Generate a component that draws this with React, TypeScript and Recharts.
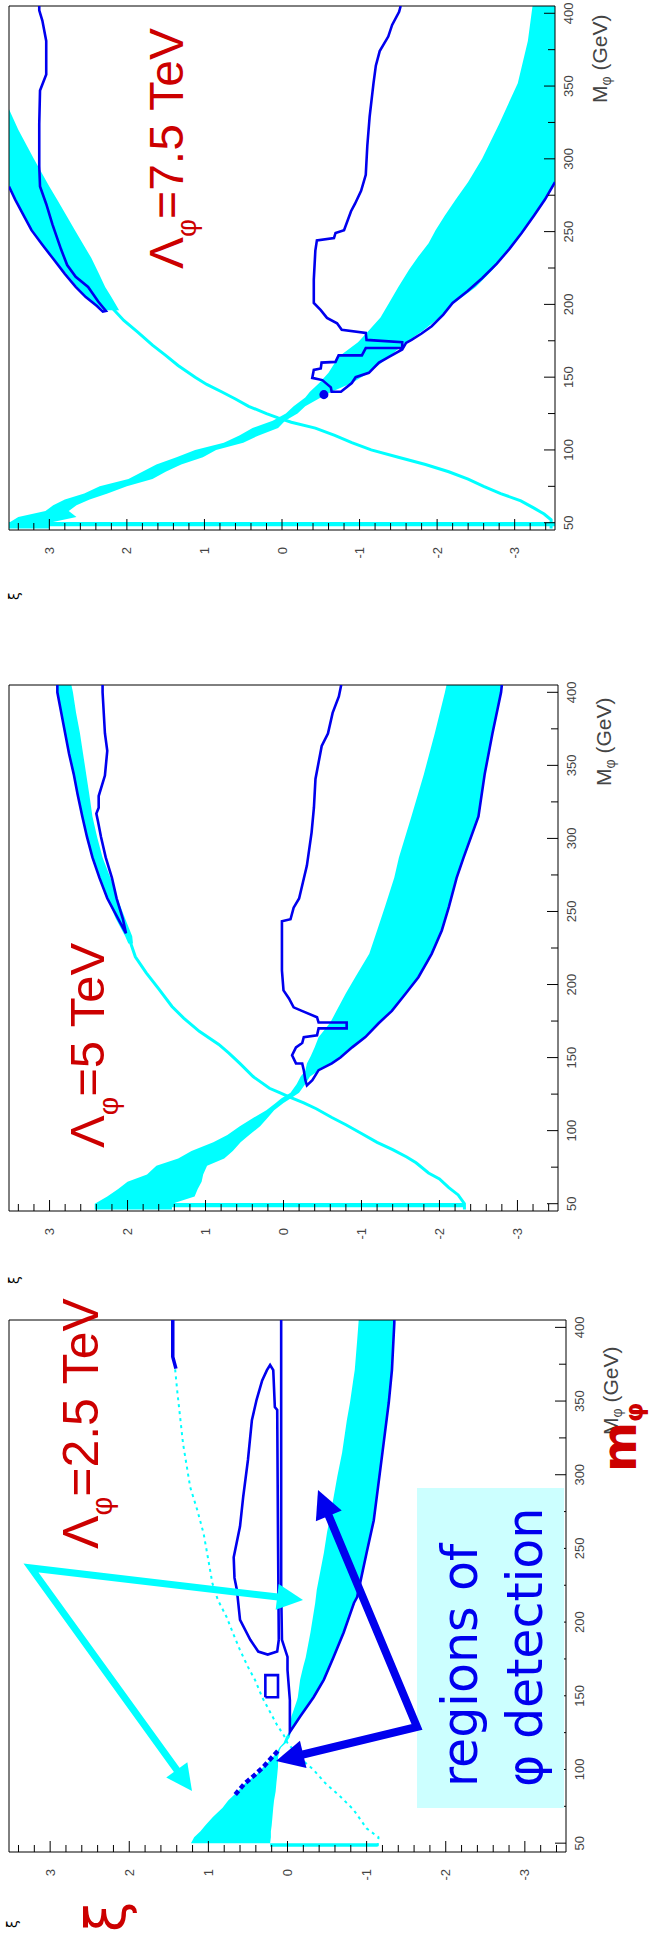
import React from "react";
import { Area, ComposedChart, ReferenceArea, Scatter, XAxis, YAxis } from "recharts";

type Band = [number, number, number][]; // [mass, xi low, xi high]
type Path = [number, number][]; // [mass, xi]

const CYAN = "#00FFFF";
const BLUE = "#0000EE";
const RED = "#CC0000";
const SANS = "'Liberation Sans', Arial, Helvetica, sans-serif";
const ROUND = "'DejaVu Sans', Verdana, sans-serif";

const massTicks = [50, 75, 100, 125, 150, 175, 200, 225, 250, 275, 300, 325, 350, 375, 400];
const xiTicks = [
  -3.4, -3.2, -3, -2.8, -2.6, -2.4, -2.2, -2, -1.8, -1.6, -1.4, -1.2, -1, -0.8, -0.6, -0.4, -0.2, 0,
  0.2, 0.4, 0.6, 0.8, 1, 1.2, 1.4, 1.6, 1.8, 2, 2.2, 2.4, 2.6, 2.8, 3, 3.2, 3.4,
];
const xiDomain: [number, number] = [-3.52, 3.52];

// ---------- Lambda = 7.5 TeV ----------
const bandA75: Band = [
  [46, 3.0, 3.52], [50, 3.0, 3.52], [54, 2.65, 3.4], [58, 2.75, 3.05], [62, 2.65, 2.95],
  [66, 2.48, 2.8], [70, 2.25, 2.55], [75, 2.0, 2.35], [80, 1.67, 1.98], [85, 1.5, 1.8],
  [90, 1.3, 1.62], [95, 1.02, 1.36], [100, 0.85, 1.12], [105, 0.5, 0.75], [110, 0.3, 0.55],
  [115, 0.05, 0.38], [120, -0.04, 0.12], [125, -0.2, -0.05], [130, -0.3, -0.15], [136, -0.5, -0.3],
  [140, -0.64, -0.36], [146, -0.9, -0.48], [153, -1.12, -0.6], [164, -1.38, -0.73], [174, -1.6, -0.98],
  [182, -1.82, -1.12], [191, -2.03, -1.27], [201, -2.22, -1.38], [212, -2.5, -1.5], [224, -2.72, -1.64],
  [233, -2.86, -1.76], [242, -3.0, -1.89], [251, -3.12, -1.98], [261, -3.25, -2.1], [272, -3.39, -2.24],
  [284, -3.52, -2.4], [300, -3.52, -2.58], [324, -3.52, -2.8], [352, -3.52, -3.04], [381, -3.52, -3.17],
  [405, -3.52, -3.23],
];
const bandB75: Band = [
  [196, 2.1, 2.3], [205, 2.2, 2.52], [212, 2.28, 2.64], [221, 2.36, 2.78], [232, 2.46, 2.96],
  [241, 2.56, 3.09], [251, 2.67, 3.22], [261, 2.78, 3.33], [272, 2.9, 3.44], [281, 3.0, 3.52],
  [300, 3.2, 3.52], [320, 3.4, 3.52], [334, 3.52, 3.52],
];
const baseRow75: Band = [[47.5, -3.52, 3.52], [50.5, -3.52, 3.52]];
const thinB75: Path = [
  [46, -3.47], [52, -3.47], [56, -3.38], [60, -3.25], [65, -3.08], [70, -2.82], [75, -2.6], [80, -2.4],
  [85, -2.15], [90, -1.85], [95, -1.5], [100, -1.15], [105, -0.9], [110, -0.68], [115, -0.43],
  [119, -0.12], [122, 0.05], [125, 0.2], [130, 0.43], [135, 0.6], [140, 0.78], [145, 0.97], [150, 1.12],
  [158, 1.34], [165, 1.5], [172, 1.67], [181, 1.86], [189, 2.04], [197, 2.18],
];
const contourUp75: Path = [
  [281, 3.52], [272, 3.44], [261, 3.33], [251, 3.23], [241, 3.09], [232, 2.96], [221, 2.8], [212, 2.66],
  [205, 2.53], [199, 2.39], [195, 2.31], [195.5, 2.27], [202, 2.37], [212, 2.5], [219, 2.66], [227, 2.77],
  [238, 2.85], [255, 2.96], [269, 3.04], [281, 3.12], [295, 3.13], [324, 3.13], [347, 3.12], [358, 3.04],
  [381, 3.04], [395, 3.09], [402, 3.13], [405, 3.13],
];
const contourLow75: Path = [
  [284, -3.52], [272, -3.39], [261, -3.25], [249, -3.09], [238, -2.93], [228, -2.77], [218, -2.58],
  [209, -2.39], [201, -2.2], [193, -2.08], [185, -1.93], [180, -1.8], [175.6, -1.67], [173.5, -1.6],
  [169, -1.55], [164, -1.38], [160, -1.25], [153, -1.12], [150, -0.95], [146, -0.9], [140, -0.76],
  [140, -0.64], [143, -0.63], [148, -0.52], [149.5, -0.39], [155, -0.41], [156, -0.5], [160, -0.51],
  [160.5, -0.69], [165, -0.73], [165, -1.03], [170, -1.08], [170, -1.55], [174, -1.55], [175.6, -1.09],
  [180.4, -1.08], [182.5, -0.77], [187, -0.71], [190.7, -0.58], [196, -0.5], [201, -0.41], [217, -0.41],
  [237, -0.43], [244, -0.45], [245.6, -0.67], [249, -0.69], [251, -0.8], [264, -0.89], [269, -0.94],
  [278, -1.02], [289, -1.08], [309, -1.1], [329, -1.13], [352, -1.18], [364, -1.21], [374, -1.26],
  [384, -1.37], [392, -1.42], [401, -1.51], [405, -1.53],
];
const blob75: Path = [[138, -0.54]];

// ---------- Lambda = 5 TeV ----------
const bandA5: Band = [
  [46, 1.43, 2.42], [50, 1.43, 2.42], [55, 1.14, 2.26], [60, 1.1, 2.12], [65, 1.05, 2.0],
  [70, 1.03, 1.75], [76, 0.98, 1.63], [81, 0.76, 1.35], [86, 0.65, 1.18], [92, 0.55, 0.9],
  [97, 0.44, 0.72], [103, 0.3, 0.56], [109, 0.2, 0.38], [114, 0.12, 0.22], [119, 0.0, 0.1],
  [122, -0.09, 0.03], [126, -0.2, -0.09], [132, -0.28, -0.17], [137, -0.34, -0.22], [141, -0.45, -0.28],
  [146, -0.62, -0.3], [151, -0.75, -0.35], [157, -0.88, -0.4], [164, -1.05, -0.45], [174, -1.22, -0.6],
  [182, -1.39, -0.68], [194, -1.57, -0.8], [205, -1.73, -0.92], [221, -1.9, -1.1], [237, -2.03, -1.2],
  [253, -2.12, -1.3], [273, -2.22, -1.42], [287, -2.31, -1.48], [315, -2.5, -1.64], [344, -2.58, -1.8],
  [372, -2.68, -1.94], [400, -2.79, -2.07], [405, -2.8, -2.09],
];
const bandB5: Band = [
  [228, 1.93, 1.99], [233, 1.94, 2.03], [245, 2.03, 2.15], [259, 2.13, 2.26], [273, 2.22, 2.36],
  [287, 2.32, 2.45], [301, 2.39, 2.52], [315, 2.45, 2.58], [330, 2.49, 2.64], [344, 2.53, 2.69],
  [358, 2.57, 2.75], [372, 2.61, 2.8], [386, 2.66, 2.85], [400, 2.7, 2.9], [405, 2.72, 2.91],
];
const baseRow5: Band = [[47.5, -2.32, 1.43], [50.5, -2.32, 1.43]];
const thinB5: Path = [
  [46, -2.32], [50, -2.32], [56, -2.24], [61, -2.12], [67, -2.0], [71, -1.86], [78, -1.7], [82, -1.58],
  [87, -1.4], [92, -1.2], [98, -1.0], [104, -0.8], [109, -0.62], [115, -0.42], [119, -0.26], [123, -0.08],
  [126, 0.05], [129, 0.18], [137, 0.39], [146, 0.56], [153, 0.7], [159, 0.83], [168, 1.08], [177, 1.28],
  [185, 1.43], [197, 1.6], [208, 1.76], [219, 1.9], [230, 1.97],
];
const contourUp5: Path = [
  [405, 2.9], [400, 2.9], [386, 2.85], [372, 2.8], [358, 2.75], [344, 2.69], [330, 2.64], [315, 2.58],
  [301, 2.52], [287, 2.45], [273, 2.36], [259, 2.26], [247, 2.14], [235, 2.02], [245, 2.06], [259, 2.14],
  [273, 2.2], [287, 2.28], [301, 2.34], [312, 2.38], [317, 2.4], [321, 2.37], [329, 2.37], [343, 2.29],
  [360, 2.26], [372, 2.29], [400, 2.32], [405, 2.32],
];
const contourLow5: Path = [
  [405, -2.8], [400, -2.79], [372, -2.68], [344, -2.58], [315, -2.5], [287, -2.31], [273, -2.22],
  [253, -2.12], [237, -2.03], [221, -1.9], [205, -1.73], [194, -1.57], [182, -1.39], [173.5, -1.22],
  [164, -1.05], [157, -0.88], [150, -0.73], [146, -0.62], [141.4, -0.45], [134.6, -0.37], [131, -0.3],
  [134.6, -0.28], [141.4, -0.26], [146, -0.24], [146, -0.16], [151.6, -0.11], [157, -0.16], [160, -0.24],
  [164, -0.26], [165.3, -0.43], [170, -0.45], [170, -0.81], [174, -0.81], [174, -0.45], [177.6, -0.43],
  [182.3, -0.22], [184.4, -0.13], [190.5, -0.07], [196, 0.0], [209.6, 0.02], [243.3, 0.02], [244.7, -0.09],
  [252.6, -0.13], [258.9, -0.2], [270.2, -0.25], [281.4, -0.3], [304, -0.36], [321, -0.39], [340.7, -0.41],
  [363.3, -0.49], [371.8, -0.57], [385.9, -0.63], [397.2, -0.71], [405, -0.74],
];

// ---------- Lambda = 2.5 TeV ----------
const bandA25: Band = [
  [50, 0.22, 1.22], [54, 0.21, 1.18], [58, 0.21, 1.1], [62, 0.2, 1.04], [68, 0.19, 0.94], [74, 0.18, 0.82],
  [79, 0.17, 0.75], [85, 0.15, 0.63], [91, 0.14, 0.53], [96, 0.13, 0.4], [102, 0.12, 0.3], [108, 0.12, 0.19],
  [113, 0.1, 0.12], [115, 0.08, 0.1], [118, 0.02, 0.05], [122, -0.03, 0.02], [125.5, -0.04, -0.02],
  [130, -0.08, -0.03], [136, -0.16, -0.05], [147, -0.3, -0.12], [149, -0.33, -0.13], [161, -0.46, -0.16],
  [170, -0.53, -0.2], [176, -0.58, -0.23], [193, -0.71, -0.29], [213, -0.84, -0.35], [222, -0.9, -0.37],
  [247, -1.0, -0.46], [261, -1.06, -0.5], [269, -1.09, -0.53], [299, -1.17, -0.63], [315, -1.2, -0.69],
  [337, -1.26, -0.75], [349, -1.28, -0.79], [364, -1.31, -0.83], [371, -1.32, -0.85], [391, -1.34, -0.88],
  [405, -1.35, -0.9],
];
const baseRow25: Band = [[47.5, -1.14, 0.22], [50, -1.14, 0.22]];
const thinB25: Path = [
  [48, -1.14], [54, -1.15], [60, -1.0], [73, -0.83], [81.5, -0.67], [90.6, -0.48], [99.7, -0.33],
  [107.8, -0.16], [118, 0.0], [123.5, 0.05], [130, 0.13], [139, 0.22], [149, 0.32], [160.7, 0.41],
  [169.6, 0.5], [181, 0.6], [192.6, 0.69], [203.5, 0.77], [215, 0.88], [226.5, 0.95], [242, 1.0],
  [260, 1.06], [276, 1.14], [291.6, 1.23], [321, 1.32], [355, 1.39], [371.5, 1.42],
];
const contourOuter25: Path = [
  [405, -1.35], [403, -1.35], [371, -1.32], [349, -1.28], [315, -1.2], [269, -1.09], [247, -1.0],
  [217, -0.88], [213, -0.84], [193, -0.71], [176, -0.58], [161, -0.46], [149, -0.33], [136, -0.16],
  [125.5, -0.03], [147, -0.03], [167.5, 0.0], [176.4, 0.0], [188, 0.07], [222, 0.08], [405, 0.08],
];
const contourLoop25: Path = [
  [188, 0.11], [180, 0.13], [178, 0.25], [180, 0.37], [188, 0.47], [201.5, 0.6], [222, 0.64], [230, 0.67],
  [244, 0.68], [265, 0.6], [285, 0.56], [310, 0.5], [337, 0.45], [351, 0.39], [364, 0.32], [371, 0.26],
  [374.5, 0.22], [371, 0.18], [346, 0.16], [344, 0.13], [258, 0.12], [188, 0.11],
];
const contourBox25: Path = [[149, 0.28], [149, 0.12], [164, 0.12], [164, 0.28], [149, 0.28]];
const contourDash25: Path = [[83, 0.66], [90, 0.55], [96, 0.42], [102, 0.3], [108.6, 0.19], [114, 0.1]];
const contourTop25: Path = [[405, 1.45], [380, 1.45], [372, 1.41]];

type Line = { path: Path; color: string; width: number; dash?: string };
type PanelSpec = {
  top: number;
  width: number;
  frameLeft: number;
  frameRight: number;
  massDomain: [number, number];
  bands: Band[];
  lines: Line[];
  dots?: Path;
};

const Y_AXIS_W = 60;
const PANEL_H = 653;
const RIGHT_PAD = 12;

const panels: PanelSpec[] = [
  {
    top: -6, width: 596, frameLeft: 9, frameRight: 555, massDomain: [45, 405],
    bands: [baseRow75, bandA75, bandB75],
    lines: [
      { path: thinB75, color: CYAN, width: 3 },
      { path: contourUp75, color: BLUE, width: 2.6 },
      { path: contourLow75, color: BLUE, width: 2.6 },
    ],
    dots: blob75,
  },
  {
    top: 673, width: 598, frameLeft: 9, frameRight: 558, massDomain: [45, 405],
    bands: [baseRow5, bandA5, bandB5],
    lines: [
      { path: thinB5, color: CYAN, width: 3 },
      { path: contourUp5, color: BLUE, width: 2.6 },
      { path: contourLow5, color: BLUE, width: 2.6 },
    ],
  },
  {
    top: 1308, width: 604, frameLeft: 9, frameRight: 566, massDomain: [44, 405],
    bands: [baseRow25, bandA25],
    lines: [
      { path: thinB25, color: CYAN, width: 2, dash: "3 4" },
      { path: contourOuter25, color: BLUE, width: 2.6 },
      { path: contourLoop25, color: BLUE, width: 2.6 },
      { path: contourBox25, color: BLUE, width: 2.6 },
      { path: contourDash25, color: BLUE, width: 4.5, dash: "5 3" },
      { path: contourTop25, color: BLUE, width: 3.5 },
    ],
  },
];

const toRange = (b: Band) => b.map(([m, lo, hi]) => ({ m, r: [lo, hi] }));
const toPoints = (p: Path) => p.map(([m, x]) => ({ m, x }));
const NoDot = () => <g />;

function MassTick(props: any) {
  const { x, payload, bottom } = props;
  const v = payload.value as number;
  const major = v % 50 === 0;
  return (
    <g>
      <line x1={x} x2={x} y1={bottom} y2={bottom - (major ? 11 : 7)} stroke="#000" strokeWidth={1} />
      {major && (
        <text x={x} y={bottom + 18} textAnchor="middle" fontSize={13} fill="#444" fontFamily={SANS}>
          {v}
        </text>
      )}
    </g>
  );
}

function XiTick(props: any) {
  const { y, payload, left } = props;
  const v = payload.value as number;
  const major = Math.abs(v - Math.round(v)) < 0.001;
  return (
    <g>
      <line x1={left} x2={left + (major ? 11 : 7)} y1={y} y2={y} stroke="#000" strokeWidth={1} />
      {major && (
        <text x={left - 17} y={y} dy={4.5} textAnchor="end" fontSize={13} fill="#444" fontFamily={SANS}>
          {Math.round(v)}
        </text>
      )}
    </g>
  );
}

function Panel({ spec }: { spec: PanelSpec }) {
  const xAxisH = PANEL_H - spec.frameRight;
  return (
    <div
      style={{
        position: "absolute",
        left: 0,
        top: spec.top,
        width: spec.width,
        height: PANEL_H,
        transformOrigin: "0 0",
        transform: `translate(0px, ${spec.width}px) rotate(-90deg)`,
      }}
    >
      <ComposedChart
        width={spec.width}
        height={PANEL_H}
        margin={{ top: spec.frameLeft, right: RIGHT_PAD, bottom: 0, left: 0 }}
      >
        <XAxis
          type="number"
          dataKey="m"
          domain={spec.massDomain}
          ticks={massTicks}
          interval={0}
          allowDataOverflow
          height={xAxisH}
          axisLine={false}
          tickLine={false}
          tick={(p: any) => <MassTick {...p} bottom={spec.frameRight} />}
        />
        <YAxis
          type="number"
          domain={xiDomain}
          ticks={xiTicks}
          interval={0}
          allowDataOverflow
          width={Y_AXIS_W}
          axisLine={false}
          tickLine={false}
          tick={(p: any) => <XiTick {...p} left={Y_AXIS_W} />}
        />
        {spec.bands.map((b, i) => (
          <Area
            key={`band-${i}`}
            data={toRange(b)}
            dataKey="r"
            type="linear"
            stroke="none"
            fill={CYAN}
            fillOpacity={1}
            isAnimationActive={false}
          />
        ))}
        {spec.lines.map((l, i) => (
          <Scatter
            key={`line-${i}`}
            data={toPoints(l.path)}
            dataKey="x"
            fill={l.color}
            line={{ stroke: l.color, strokeWidth: l.width, strokeDasharray: l.dash }}
            shape={NoDot}
            isAnimationActive={false}
          />
        ))}
        {spec.dots && <Scatter data={toPoints(spec.dots)} dataKey="x" fill={BLUE} isAnimationActive={false} />}
        <ReferenceArea
          x1={spec.massDomain[0]}
          x2={spec.massDomain[1]}
          y1={xiDomain[0]}
          y2={xiDomain[1]}
          fill="none"
          stroke="#000"
          strokeWidth={1}
        />
      </ComposedChart>
    </div>
  );
}

function VArrow({ apex, tips, color, width, head }: { apex: [number, number]; tips: [number, number][]; color: string; width: number; head: number }) {
  const bases = tips.map(([tx, ty]) => {
    const dx = tx - apex[0];
    const dy = ty - apex[1];
    const len = Math.hypot(dx, dy);
    const ux = dx / len;
    const uy = dy / len;
    return { bx: tx - ux * head * 0.8, by: ty - uy * head * 0.8, hx: tx - ux * head, hy: ty - uy * head, ux, uy, tx, ty };
  });
  const pts = `${bases[0].bx},${bases[0].by} ${apex[0]},${apex[1]} ${bases[1].bx},${bases[1].by}`;
  return (
    <g>
      <polyline points={pts} fill="none" stroke={color} strokeWidth={width} strokeLinejoin="miter" strokeMiterlimit={10} />
      {bases.map((b, i) => {
        const px = -b.uy * head * 0.5;
        const py = b.ux * head * 0.5;
        return (
          <polygon key={i} points={`${b.tx},${b.ty} ${b.hx + px},${b.hy + py} ${b.hx - px},${b.hy - py}`} fill={color} />
        );
      })}
    </g>
  );
}

function Lambda({ x, y, size, value }: { x: number; y: number; size: number; value: string }) {
  return (
    <text transform={`translate(${x},${y}) rotate(-90)`} fontSize={size} fill={RED} fontFamily={SANS}>
      Λ
      <tspan fontSize={size * 0.58} dy={size * 0.28}>φ</tspan>
      <tspan dy={-size * 0.28}>{`=${value} TeV`}</tspan>
    </text>
  );
}

function MassTitle({ x, y }: { x: number; y: number }) {
  return (
    <text transform={`translate(${x},${y}) rotate(-90)`} fontSize={21} fill="#444" fontFamily={SANS}>
      M
      <tspan fontSize={14} dy={4}>φ</tspan>
      <tspan dy={-4}> (GeV)</tspan>
    </text>
  );
}

function XiTitle({ x, y }: { x: number; y: number }) {
  return (
    <text transform={`translate(${x},${y}) rotate(-90)`} fontSize={14} fill="#000" fontFamily={ROUND}>
      ξ
    </text>
  );
}

function Overlay() {
  return (
    <svg width={653} height={1942} style={{ position: "absolute", left: 0, top: 0, pointerEvents: "none" }}>
      <rect x={417} y={1488} width={147} height={320} fill="#CCFFFF" />
      <VArrow apex={[31, 1568]} tips={[[192, 1791], [303, 1600]]} color={CYAN} width={7} head={26} />
      <VArrow apex={[417, 1727]} tips={[[276, 1761], [318, 1490]]} color={BLUE} width={8} head={28} />
      <text transform="translate(477,1787) rotate(-90)" fontSize={49} fill={BLUE} fontFamily={ROUND}>
        regions of
      </text>
      <text transform="translate(542,1787) rotate(-90)" fontSize={49} fill={BLUE} fontFamily={ROUND}>
        φ detection
      </text>
      <Lambda x={183} y={269} size={48} value="7.5" />
      <Lambda x={104} y={1148} size={49} value="5" />
      <Lambda x={98} y={1549} size={50} value="2.5" />
      <MassTitle x={607} y={103} />
      <MassTitle x={611} y={786} />
      <MassTitle x={618} y={1435} />
      <XiTitle x={19} y={600} />
      <XiTitle x={19} y={1284} />
      <XiTitle x={17} y={1928} />
      <text transform="translate(125,1932) rotate(-90)" fontSize={55} fill={RED} fontFamily={ROUND}>
        ξ
      </text>
      <text transform="translate(636,1472) rotate(-90)" fontSize={48} fontWeight="bold" fill={RED} fontFamily={ROUND}>
        m
        <tspan fontSize={25} dy={7}>φ</tspan>
      </text>
    </svg>
  );
}

export default function App() {
  return (
    <div style={{ position: "relative", width: 653, height: 1942, overflow: "hidden", background: "#fff" }}>
      <style>{`body{margin:0}`}</style>
      {panels.map((p, i) => (
        <Panel key={i} spec={p} />
      ))}
      <Overlay />
    </div>
  );
}
